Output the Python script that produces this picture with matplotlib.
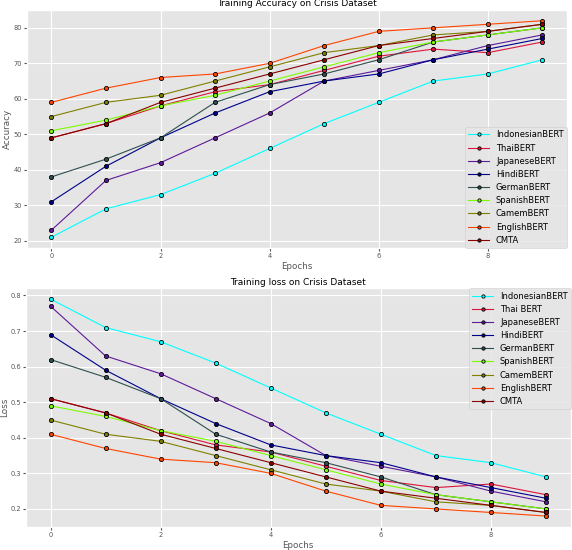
import numpy as np
import matplotlib.pyplot as plt

plt.style.use("ggplot")

epochs = np.arange(10)

models = ["IndonesianBERT", "ThaiBERT", "JapaneseBERT", "HindiBERT", "GermanBERT",
          "SpanishBERT", "CamemBERT", "EnglishBERT", "CMTA"]
loss_labels = ["IndonesianBERT", "Thai BERT", "JapaneseBERT", "HindiBERT", "GermanBERT",
               "SpanishBERT", "CamemBERT", "EnglishBERT", "CMTA"]
colors = ["#00FFFF", "#DC143C", "#5E1A9A", "#00008B", "#2F4F4F",
          "#7CFC00", "#808000", "#FF4500", "#8B0000"]

# accuracy per epoch
acc_indonesian = [21, 29, 33, 39, 46, 53, 59, 65, 67, 71]
acc_thai = [49, 53, 58, 62, 64, 68, 72, 74, 73, 76]
acc_japanese = [23, 37, 42, 49, 56, 65, 68, 71, 75, 78]
acc_hindi = [31, 41, 49, 56, 62, 65, 67, 71, 74, 77]
acc_german = [38, 43, 49, 59, 64, 67, 71, 76, 78, 80]
acc_spanish = [51, 54, 58, 61, 65, 69, 73, 76, 78, 80]
acc_camem = [55, 59, 61, 65, 69, 73, 75, 78, 79, 81]
acc_english = [59, 63, 66, 67, 70, 75, 79, 80, 81, 82]
acc_cmta = [49, 53, 59, 63, 67, 71, 75, 77, 79, 81]

# loss per epoch
loss_indonesian = [0.79, 0.71, 0.67, 0.61, 0.54, 0.47, 0.41, 0.35, 0.33, 0.29]
loss_thai = [0.51, 0.47, 0.42, 0.38, 0.36, 0.32, 0.28, 0.26, 0.27, 0.24]
loss_japanese = [0.77, 0.63, 0.58, 0.51, 0.44, 0.35, 0.32, 0.29, 0.25, 0.22]
loss_hindi = [0.69, 0.59, 0.51, 0.44, 0.38, 0.35, 0.33, 0.29, 0.26, 0.23]
loss_german = [0.62, 0.57, 0.51, 0.41, 0.36, 0.33, 0.29, 0.24, 0.22, 0.20]
loss_spanish = [0.49, 0.46, 0.42, 0.39, 0.35, 0.31, 0.27, 0.24, 0.22, 0.20]
loss_camem = [0.45, 0.41, 0.39, 0.35, 0.31, 0.27, 0.25, 0.22, 0.21, 0.19]
loss_english = [0.41, 0.37, 0.34, 0.33, 0.30, 0.25, 0.21, 0.20, 0.19, 0.18]
loss_cmta = [0.51, 0.47, 0.41, 0.37, 0.33, 0.29, 0.25, 0.23, 0.21, 0.19]

acc = [acc_indonesian, acc_thai, acc_japanese, acc_hindi, acc_german,
       acc_spanish, acc_camem, acc_english, acc_cmta]
loss = [loss_indonesian, loss_thai, loss_japanese, loss_hindi, loss_german,
        loss_spanish, loss_camem, loss_english, loss_cmta]


def panel(ax, series, labels, title, ylabel, legend_loc):
    for vals, lab, col in zip(series, labels, colors):
        ax.plot(epochs, vals, color=col, linewidth=0.8, marker="o", markersize=3,
                markeredgecolor="black", markeredgewidth=0.6, label=lab)
    ax.set_title(title, fontsize=6.5, pad=2.5)
    ax.set_xlabel("Epochs", fontsize=6.3, labelpad=2)
    ax.set_ylabel(ylabel, fontsize=6.3, labelpad=1)
    ax.tick_params(labelsize=4.8, length=2, pad=1.5)
    ax.grid(True, color="white", linewidth=0.8)
    ax.legend(loc=legend_loc, fontsize=6, borderaxespad=0, handlelength=2.5,
              labelspacing=0.5, markerscale=0.8)


fig = plt.figure(figsize=(5.72, 5.5), dpi=100)
ax1 = fig.add_axes([0.047, 0.549, 0.944, 0.433])
ax2 = fig.add_axes([0.045, 0.042, 0.953, 0.434])

panel(ax1, acc, models, "Training Accuracy on Crisis Dataset", "Accuracy", "lower right")
panel(ax2, loss, loss_labels, "Training loss on Crisis Dataset", "Loss", "upper right")

fig.savefig("out.png", dpi=100)
